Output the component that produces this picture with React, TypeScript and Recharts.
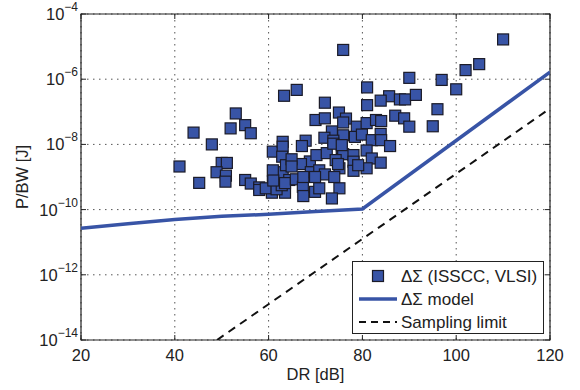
import { ComposedChart, Scatter, Line, XAxis, YAxis, CartesianGrid, ReferenceArea, Legend } from 'recharts';

// published ΔΣ converters: dynamic range [dB] and energy per sample P/BW [J]
const drValues = [
  41.0, 44.0, 45.2, 47.9, 50.0, 51.1, 48.9, 50.9, 50.8, 51.9,
  53.0, 55.0, 56.2, 55.0, 56.2, 58.0, 58.0, 60.9, 63.0, 63.0,
  62.9, 63.0, 60.9, 60.9, 60.7, 63.5, 63.7, 63.3, 66.0, 59.4,
  61.7, 62.8, 61.0, 64.4, 63.5, 65.8, 67.3, 67.4, 69.9, 68.8,
  66.9, 64.9, 64.9, 69.0, 70.2, 67.9, 67.1, 70.0, 72.0, 72.0,
  75.0, 75.9, 76.5, 75.9, 78.8, 80.9, 82.9, 84.0, 73.5, 75.9,
  71.9, 78.4, 79.9, 82.0, 83.9, 84.0, 85.9, 73.8, 75.6, 80.9,
  72.4, 75.9, 78.1, 82.0, 74.3, 83.9, 78.1, 75.1, 70.8, 78.1,
  80.9, 79.1, 72.0, 74.0, 69.9, 67.4, 70.8, 75.1, 73.5, 81.0,
  81.0, 85.7, 83.9, 88.0, 89.1, 90.0, 91.4, 87.0, 88.9, 90.0,
  95.0, 96.0, 96.9, 100.0, 102.0, 104.9, 110.0, 74.8, 73.8, 75.6,
];
const pbwValues = [
  2.1e-9, 2.3e-8, 6.6e-10, 1.0e-8, 2.7e-9, 2.7e-9, 1.4e-9, 1.1e-9, 7.2e-10, 3.1e-8,
  8.9e-8, 3.9e-8, 2.2e-8, 8.1e-10, 6.3e-10, 4.8e-10, 4.0e-10, 6.0e-9, 1.2e-8, 8.5e-9,
  4.2e-9, 1.4e-9, 1.6e-9, 7.2e-10, 3.3e-10, 3.3e-10, 2.3e-9, 3.1e-7, 4.7e-7, 4.5e-10,
  4.2e-10, 5.6e-10, 7.8e-10, 8.1e-10, 6.5e-10, 8.5e-10, 5.0e-10, 2.6e-10, 3.5e-10, 3.0e-9,
  2.5e-9, 3.5e-9, 2.1e-9, 1.4e-9, 4.7e-9, 1.3e-8, 8.9e-9, 5.6e-8, 6.3e-8, 1.9e-7,
  9.5e-8, 7.9e-6, 6.2e-8, 4.7e-8, 3.5e-8, 4.5e-8, 5.6e-8, 5.2e-8, 2.5e-8, 1.9e-8,
  1.6e-8, 1.7e-8, 2.0e-8, 1.35e-8, 2.1e-8, 1.35e-8, 8.9e-9, 1.3e-8, 7.6e-9, 6.5e-9,
  5.4e-9, 5.0e-9, 4.7e-9, 3.7e-9, 3.3e-9, 2.75e-9, 2.95e-9, 1.85e-9, 1.6e-9, 1.55e-9,
  1.85e-9, 2.3e-9, 1.2e-9, 1.0e-9, 1.0e-9, 1.0e-9, 4.5e-10, 4.5e-10, 2.2e-10, 5.6e-7,
  1.6e-7, 3.0e-7, 2.2e-7, 2.4e-7, 2.4e-7, 1.1e-6, 3.3e-7, 7.6e-8, 6.3e-8, 3.5e-8,
  3.6e-8, 1.2e-7, 9.5e-7, 4.9e-7, 1.9e-6, 2.9e-6, 1.66e-5, 2.5e-9, 1.05e-8, 9.5e-9,
];

const modelDr = [20, 30, 40, 50, 60, 70, 80, 120];
const modelPbw = [2.7e-11, 3.7e-11, 5.0e-11, 6.2e-11, 7.2e-11, 8.7e-11, 1.05e-10, 1.65e-6];

const limitDr = [49, 120];
const limitPbw = [1e-14, 1.26e-7];

const xTicks = [20, 40, 60, 80, 100, 120];
const yTicks = [1e-14, 1e-12, 1e-10, 1e-8, 1e-6, 1e-4];

const BLUE = '#3854a6';
const INK = '#222222';
const FONT = "'Liberation Sans', Arial, Helvetica, sans-serif";

// plot box size, used for the inward MATLAB-style ticks on the opposite sides
const PLOT_W = 469;
const PLOT_H = 326;
const TICK_LEN = 5;

const points = drValues.map((dr, i) => ({ dr, pbw: pbwValues[i] }));
const model = modelDr.map((dr, i) => ({ dr, pbw: modelPbw[i] }));
const limit = limitDr.map((dr, i) => ({ dr, pbw: limitPbw[i] }));

function Square(props: any) {
  const { cx, cy } = props;
  if (cx == null || cy == null) return null;
  return (
    <rect x={cx - 5.5} y={cy - 5.5} width={11} height={11} fill={BLUE} stroke="#1b1b28" strokeWidth={1.2} />
  );
}

function XTick(props: any) {
  const { x, y, payload } = props;
  return (
    <g>
      <line x1={x} y1={y} x2={x} y2={y - TICK_LEN} stroke={INK} />
      <line x1={x} y1={y - PLOT_H} x2={x} y2={y - PLOT_H + TICK_LEN} stroke={INK} />
      <text x={x} y={y + 21} textAnchor="middle" fontSize={16.5} fontFamily={FONT} fill={INK}>
        {payload.value}
      </text>
    </g>
  );
}

function YTick(props: any) {
  const { x, y, payload } = props;
  const exp = Math.round(Math.log10(payload.value));
  return (
    <g>
      <line x1={x} y1={y} x2={x + TICK_LEN} y2={y} stroke={INK} />
      <line x1={x + PLOT_W} y1={y} x2={x + PLOT_W - TICK_LEN} y2={y} stroke={INK} />
      <text x={x - 3} y={y} textAnchor="end" fontFamily={FONT} fill={INK}>
        <tspan dy={6} fontSize={16.5}>10</tspan>
        <tspan dy={-9} fontSize={12}>{'\u2212' + Math.abs(exp)}</tspan>
      </text>
    </g>
  );
}

function XLabel(props: any) {
  const { viewBox } = props;
  return (
    <text x={viewBox.x + viewBox.width / 2} y={viewBox.y + 40} textAnchor="middle" fontSize={16.5} fontFamily={FONT} fill={INK}>
      DR [dB]
    </text>
  );
}

function YLabel(props: any) {
  const { viewBox } = props;
  const cx = viewBox.x + 28;
  const cy = viewBox.y + viewBox.height / 2;
  return (
    <text x={cx} y={cy} transform={`rotate(-90 ${cx} ${cy})`} textAnchor="middle" fontSize={16.5} fontFamily={FONT} fill={INK}>
      P/BW [J]
    </text>
  );
}

function LegendBox() {
  return (
    <svg width={192} height={73} style={{ display: 'block' }}>
      <rect x={0.5} y={0.5} width={191} height={72} fill="#fff" stroke={INK} />
      <rect x={20.5} y={9.5} width={11} height={11} fill={BLUE} stroke="#1b1b28" strokeWidth={1.2} />
      <line x1={7} y1={38} x2={45} y2={38} stroke={BLUE} strokeWidth={3.5} />
      <line x1={7} y1={61} x2={45} y2={61} stroke="#111" strokeWidth={2} strokeDasharray="7 5" />
      <g fontSize={17} fontFamily={FONT} fill={INK}>
        <text x={49} y={21}>ΔΣ (ISSCC, VLSI)</text>
        <text x={49} y={44}>ΔΣ model</text>
        <text x={49} y={67}>Sampling limit</text>
      </g>
    </svg>
  );
}

export default function App() {
  return (
    <div style={{ position: 'absolute', left: 0, top: 0, background: '#fff' }}>
      <ComposedChart width={580} height={390} margin={{ top: 14, right: 30, bottom: 0, left: 0 }}>
        <CartesianGrid stroke="#555" strokeDasharray="1.5 4.5" />
        <XAxis
          dataKey="dr"
          type="number"
          domain={[20, 120]}
          ticks={xTicks}
          interval={0}
          height={50}
          axisLine={false}
          tickLine={false}
          tickSize={0}
          tickMargin={0}
          tick={<XTick />}
          label={<XLabel />}
          allowDataOverflow
        />
        <YAxis
          type="number"
          scale="log"
          domain={[1e-14, 1e-4]}
          ticks={yTicks}
          interval={0}
          width={81}
          axisLine={false}
          tickLine={false}
          tickSize={0}
          tickMargin={0}
          tick={<YTick />}
          label={<YLabel />}
          allowDataOverflow
        />
        <ReferenceArea x1={20} x2={120} y1={1e-14} y2={1e-4} fill="none" stroke={INK} strokeWidth={1.2} />
        <Line data={limit} dataKey="pbw" stroke="#111" strokeWidth={2} strokeDasharray="8 6" dot={false} isAnimationActive={false} />
        <Line data={model} dataKey="pbw" stroke={BLUE} strokeWidth={3.5} dot={false} isAnimationActive={false} />
        <Scatter data={points} dataKey="pbw" shape={<Square />} isAnimationActive={false} />
        <Legend
          layout="vertical"
          align="center"
          verticalAlign="middle"
          content={<LegendBox />}
          wrapperStyle={{ left: 352, top: 261, width: 192, height: 73 }}
        />
      </ComposedChart>
    </div>
  );
}
